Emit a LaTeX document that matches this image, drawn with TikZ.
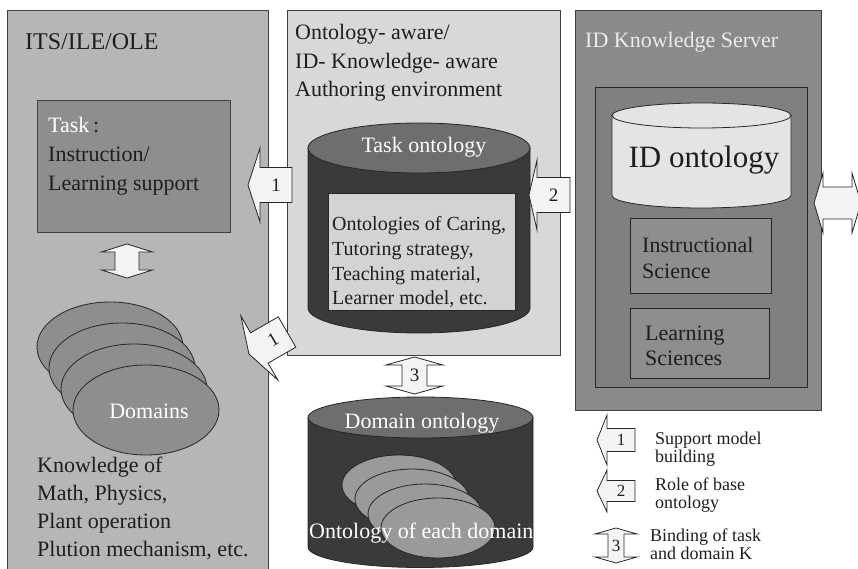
\documentclass[tikz,border=0pt]{standalone}
\usepackage{fontspec}
\setmainfont{Liberation Serif}
\definecolor{leftp}{HTML}{B6B6B6}
\definecolor{taskb}{HTML}{8E8E8E}
\definecolor{midp}{HTML}{D8D8D8}
\definecolor{cylbody}{HTML}{3A3A3A}
\definecolor{cyltop}{HTML}{6E6E6E}
\definecolor{innerb}{HTML}{D3D3D3}
\definecolor{rightp}{HTML}{8A8A8A}
\definecolor{rinner}{HTML}{808080}
\definecolor{idcyl}{HTML}{E4E4E4}
\definecolor{scib}{HTML}{8E8E8E}
\definecolor{domell}{HTML}{8E8E8E}
\definecolor{domellb}{HTML}{9A9A9A}
\definecolor{arrowf}{HTML}{F4F4F4}
\definecolor{ink}{HTML}{1E1E1E}
\newcommand\fTitle{\fontsize{24}{28}\selectfont}
\newcommand\fBig{\fontsize{22}{26}\selectfont}
\newcommand\fMid{\fontsize{20}{24}\selectfont}
\newcommand\fHuge{\fontsize{31}{36}\selectfont}
\newcommand\fSmall{\fontsize{18}{20}\selectfont}
\newcommand\fNum{\fontsize{19}{21}\selectfont}
\newcommand\fNumS{\fontsize{17}{19}\selectfont}
% single block arrow pointing left (before rotation)
% #1 name, #2 cx, #3 cy, #4 rot, #5 half length, #6 head length, #7 box half, #8 head half, #9 label
\newcommand\sarrow[9]{%
  \begin{scope}[shift={(#2,#3)}, rotate=#4]
    \draw[barrow] (-#5,0) -- ({-#5+#6},-#8) -- ({-#5+#6},-#7) -- (#5,-#7)
      -- (#5,#7) -- ({-#5+#6},#7) -- ({-#5+#6},#8) -- cycle;
    \node[numlab, rotate=#4] (#1) at ({#6/2},0) {#9};
  \end{scope}}
% double block arrow, vertical (before rotation)
% #1 name, #2 cx, #3 cy, #4 rot, #5 half length, #6 head length, #7 shaft half, #8 head half, #9 label
\newcommand\darrow[9]{%
  \begin{scope}[shift={(#2,#3)}, rotate=#4]
    \draw[barrow] (0,-#5) -- (#8,{-#5+#6}) -- (#7,{-#5+#6}) -- (#7,{#5-#6})
      -- (#8,{#5-#6}) -- (0,#5) -- (-#8,{#5-#6}) -- (-#7,{#5-#6})
      -- (-#7,{-#5+#6}) -- (-#8,{-#5+#6}) -- cycle;
    \node[numlab] (#1) at (0,0) {#9};
  \end{scope}}
\begin{document}
\begin{tikzpicture}[x=1pt,y=-1pt,
  panel/.style={draw=black!75, line width=0.8pt},
  barrow/.style={draw=black!85, fill=arrowf, line width=0.8pt},
  numlab/.style={inner sep=0, text=ink},
  txt/.style={inner sep=0, anchor=base west, text=ink},
  wtxt/.style={inner sep=0, anchor=base, text=white},
  ctxt/.style={inner sep=0, anchor=base, text=ink},
  outl/.style={draw=black!85, line width=0.8pt}]
\useasboundingbox (0,0) rectangle (858,569);

% ---------------- left panel ----------------
\draw[panel, fill=leftp] (7,10) rectangle (268,580);
\node[txt, font=\fTitle] (its) at (25,50) {ITS/ILE/OLE};
\draw[panel, fill=taskb] (37,100) rectangle (230,232);
\node[txt, font=\fBig] (tk1) at (48,133) {\textcolor{white}{Task}\,:};
\node[txt, font=\fBig] (tk2) at (48,162) {Instruction/};
\node[txt, font=\fBig] (tk3) at (48,191) {Learning support};
\darrow{vd1}{127}{261}{0}{17}{8}{12}{25.5}{}
% domains ellipses
\foreach \cx/\cy in {110/347,122/368,134/389,146/410}
  \draw[outl, fill=domell] (\cx,\cy) ellipse [x radius=73, y radius=45];
\node[wtxt, font=\fBig] (dom) at (149,418) {Domains};
\node[txt, font=\fBig] (k1) at (37,472) {Knowledge of};
\node[txt, font=\fBig] (k2) at (37,500) {Math, Physics,};
\node[txt, font=\fBig] (k3) at (37,528) {Plant operation};
\node[txt, font=\fBig] (k4) at (37,556) {Plution mechanism, etc.};

% ---------------- middle panel ----------------
\draw[panel, fill=midp] (287,10) rectangle (560,355);
\node[txt, font=\fBig] (m1) at (295,40) {Ontology- aware/};
\node[txt, font=\fBig] (m2) at (295,68.5) {ID- Knowledge- aware};
\node[txt, font=\fBig] (m3) at (295,97) {Authoring environment};
% task ontology cylinder
\draw[outl, fill=cylbody] (308,148) -- (308,308)
  arc[start angle=180, end angle=0, x radius=111, y radius=25] -- (530,148) -- cycle;
\draw[outl, fill=cyltop] (419,148) ellipse [x radius=111, y radius=25];
\node[wtxt, font=\fBig] (tont) at (424,153) {Task ontology};
\draw[outl, fill=innerb] (328,193) rectangle (515,310);
\node[txt, font=\fMid] (o1) at (332,230) {Ontologies of Caring,};
\node[txt, font=\fMid] (o2) at (332,255) {Tutoring strategy,};
\node[txt, font=\fMid] (o3) at (332,280) {Teaching material,};
\node[txt, font=\fMid] (o4) at (332,304) {Learner model, etc.};

% domain ontology cylinder
\draw[outl, fill=cylbody] (308,417.5) -- (308,547)
  arc[start angle=180, end angle=0, x radius=112.5, y radius=20.5] -- (533,417.5) -- cycle;
\foreach \cx/\cy in {399/485,412/499,425/514,438/528}
  \draw[outl, fill=domellb] (\cx,\cy) ellipse [x radius=57, y radius=30];
\draw[outl, fill=cyltop] (420.5,417.5) ellipse [x radius=112.5, y radius=20.5];
\node[wtxt, font=\fBig] (dont) at (422,428) {Domain ontology};
\node[inner sep=0, anchor=base west, text=white, font=\fBig] (each) at (309,538) {Ontology of each domain};

% ---------------- right panel ----------------
\draw[panel, fill=rightp] (575,10) rectangle (821,410);
\node[inner sep=0, anchor=base west, text=white!92!black, font=\fBig] (srv) at (585,48) {ID Knowledge Server};
\draw[outl, fill=rinner] (595,87) rectangle (807,387);
\draw[outl, fill=idcyl] (612,115.5) -- (612,195.5)
  arc[start angle=180, end angle=0, x radius=89.5, y radius=12.5] -- (791,115.5) -- cycle;
\draw[outl, fill=idcyl] (701.5,115.5) ellipse [x radius=89.5, y radius=12.5];
\node[ctxt, font=\fHuge] (idont) at (704,168) {ID ontology};
\draw[outl, fill=scib] (630,218) rectangle (771,293);
\node[txt, font=\fBig] (is1) at (642,252) {Instructional};
\node[txt, font=\fBig] (is2) at (642,278) {Science};
\draw[outl, fill=scib] (630,308) rectangle (769,378);
\node[txt, font=\fBig] (ls1) at (645,340) {Learning};
\node[txt, font=\fBig] (ls2) at (645,365) {Sciences};

% ---------------- block arrows ----------------
\sarrow{a1}{270}{185}{0}{22}{12}{17.5}{37}{\fNum 1}
\sarrow{a1b}{268}{343}{30}{22}{12}{17.5}{37}{\fNum 1}
\sarrow{a2}{549.5}{195}{0}{20.5}{8}{17.5}{35}{\fNum 2}
\darrow{a3}{414.5}{375.5}{0}{18.5}{8}{12.5}{28.5}{\fNum 3}
\darrow{ar}{837.5}{203}{90}{23.5}{9}{16}{30}{}

% ---------------- legend ----------------
\sarrow{l1}{616}{440}{0}{19}{10}{11.5}{25}{\fNumS 1}
\sarrow{l2}{616}{491}{0}{19}{10}{10.5}{21}{\fNumS 2}
\darrow{l3}{616}{545.5}{0}{17.5}{6}{8}{21}{\fNumS 3}
\node[txt, font=\fSmall] (lt1) at (655,444) {Support model};
\node[txt, font=\fSmall] (lt2) at (655,462) {building};
\node[txt, font=\fSmall] (lt3) at (655,490) {Role of base};
\node[txt, font=\fSmall] (lt4) at (655,508) {ontology};
\node[txt, font=\fSmall] (lt5) at (650,541) {Binding of task};
\node[txt, font=\fSmall] (lt6) at (650,559) {and domain K};
\end{tikzpicture}
\end{document}
